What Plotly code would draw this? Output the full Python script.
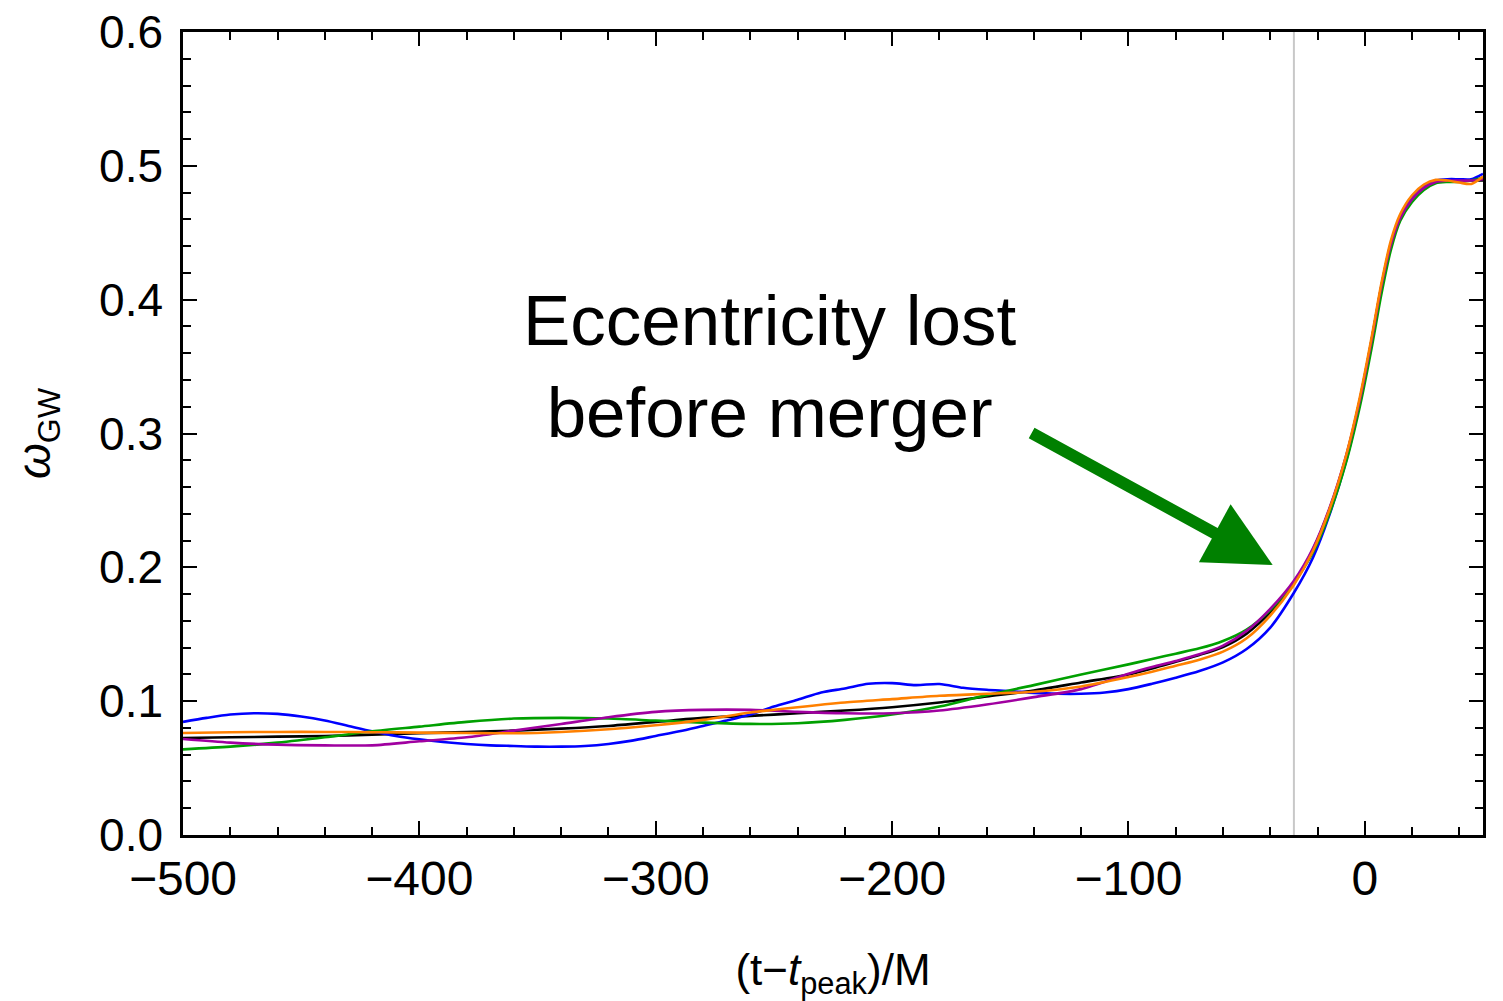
import plotly.graph_objects as go

# shared time grid (t - t_peak)/M for the smooth curves
t = [-500, -480, -460, -440, -420, -400, -380, -360, -340, -320, -300, -280, -260, -240,
     -220, -200, -180, -160, -140, -120, -100, -90, -80, -70, -60, -50, -40, -30,
     -22, -15, -8, -2, 3, 7, 11, 15, 20, 25, 30, 35, 40, 45, 50]

omega_black = [0.0725, 0.073, 0.0735, 0.074, 0.075, 0.076, 0.077, 0.078, 0.0795, 0.0815,
               0.0845, 0.0875, 0.089, 0.091, 0.093, 0.0955, 0.099, 0.1035, 0.108, 0.114,
               0.120, 0.1245, 0.1295, 0.1345, 0.1405, 0.1505, 0.1665, 0.188,
               0.213, 0.243, 0.282, 0.326, 0.371, 0.410, 0.442, 0.462, 0.475, 0.4835,
               0.488, 0.489, 0.489, 0.489, 0.489]

omega_green = [0.064, 0.066, 0.069, 0.073, 0.0775, 0.081, 0.0845, 0.087, 0.0875, 0.087,
               0.0855, 0.084, 0.083, 0.0835, 0.086, 0.090, 0.096, 0.1045, 0.112, 0.120,
               0.1275, 0.1315, 0.1355, 0.1395, 0.145, 0.1535, 0.168, 0.189,
               0.211, 0.240, 0.278, 0.321, 0.365, 0.404, 0.437, 0.459, 0.473, 0.482,
               0.487, 0.488, 0.488, 0.489, 0.491]

omega_purple = [0.0717, 0.069, 0.0675, 0.067, 0.067, 0.070, 0.073, 0.078, 0.083, 0.088,
                0.092, 0.0935, 0.0935, 0.092, 0.091, 0.091, 0.093, 0.0975, 0.103, 0.109,
                0.1205, 0.1255, 0.130, 0.135, 0.1415, 0.1525, 0.169, 0.190,
                0.214, 0.244, 0.283, 0.326, 0.371, 0.410, 0.441, 0.461, 0.475, 0.4835,
                0.488, 0.489, 0.489, 0.489, 0.490]

omega_orange = [0.0762, 0.0768, 0.077, 0.077, 0.0768, 0.0765, 0.0762, 0.076, 0.077, 0.079,
                0.082, 0.086, 0.0915, 0.0955, 0.099, 0.1015, 0.104, 0.1055, 0.107, 0.111,
                0.118, 0.122, 0.1265, 0.131, 0.137, 0.147, 0.164, 0.187,
                0.212, 0.243, 0.283, 0.328, 0.373, 0.412, 0.444, 0.464, 0.478, 0.486,
                0.4895, 0.489, 0.4875, 0.4865, 0.492]

# the blue (noisier) run, sampled more finely
t_blue = [-500, -490, -480, -470, -460, -450, -440, -430, -420, -410, -400, -390, -380,
          -370, -360, -350, -340, -330, -320, -310, -300, -290, -280, -270, -260, -250,
          -240, -230, -220, -210, -200, -190, -180, -170, -160, -150, -140, -130, -120,
          -110, -100, -90, -80, -70, -60, -50, -40, -30,
          -22, -15, -8, -2, 3, 7, 11, 15, 20, 25, 30, 35, 40, 45, 50]

omega_blue = [0.0845, 0.0875, 0.0900, 0.0910, 0.0905, 0.0885, 0.0855, 0.0815, 0.0775, 0.0740,
              0.0715, 0.0695, 0.0680, 0.0670, 0.0665, 0.0660, 0.0660, 0.0665, 0.0680, 0.0705,
              0.0740, 0.0775, 0.0815, 0.0855, 0.0900, 0.0960, 0.1010, 0.1065, 0.1095, 0.1130,
              0.1135, 0.1120, 0.1128, 0.1100, 0.1085, 0.1075, 0.1062, 0.1055, 0.1055, 0.1065,
              0.1090, 0.1130, 0.1175, 0.1225, 0.1290, 0.1390, 0.1550, 0.1810,
              0.207, 0.239, 0.279, 0.324, 0.370, 0.409, 0.441, 0.462, 0.476, 0.485,
              0.489, 0.490, 0.490, 0.490, 0.494]

series = [
    ("black", t, omega_black, "#000000"),
    ("blue", t_blue, omega_blue, "#0000ff"),
    ("green", t, omega_green, "#00a000"),
    ("purple", t, omega_purple, "#a000a0"),
    ("orange", t, omega_orange, "#ff8000"),
]

marker_t = -30
arrow_tip = (-39, 0.2018)
arrow_tail = (-141.6, 0.301)
label_pos = (-252, 0.350)
label_text = "Eccentricity lost<br>before merger"

x_ticks = [-500, -400, -300, -200, -100, 0]
y_ticks = [0.0, 0.1, 0.2, 0.3, 0.4, 0.5, 0.6]

FONT = "Liberation Sans, Arial, Helvetica, sans-serif"

fig = go.Figure()

fig.add_shape(type="line", x0=marker_t, x1=marker_t, y0=0, y1=1, xref="x", yref="paper",
              line=dict(color="#c8c8c8", width=2), layer="below")

for name, xs, ys, col in series:
    fig.add_trace(go.Scatter(x=xs, y=ys, mode="lines", name=name,
                             line=dict(color=col, width=2.6, shape="spline", smoothing=0.8),
                             showlegend=False))

fig.add_annotation(x=arrow_tip[0], y=arrow_tip[1], ax=arrow_tail[0], ay=arrow_tail[1],
                   xref="x", yref="y", axref="x", ayref="y", text="",
                   showarrow=True, arrowhead=2, arrowsize=1.1, arrowwidth=12,
                   arrowcolor="#008000", standoff=0)

fig.add_annotation(x=label_pos[0], y=label_pos[1], xref="x", yref="y", text=label_text,
                   showarrow=False, font=dict(size=71, color="black", family=FONT))

axis_common = dict(showline=True, linecolor="black", linewidth=2.5, mirror="ticks",
                   ticks="inside", ticklen=14, tickwidth=2, tickcolor="black",
                   showgrid=False, zeroline=False, ticklabeloverflow="allow")

fig.update_xaxes(range=[-500, 50], tickvals=x_ticks,
                 tickfont=dict(size=48, family=FONT, color="black"),
                 minor=dict(ticks="inside", ticklen=8, tickwidth=2, dtick=20, tick0=0,
                            tickcolor="black", showgrid=False),
                 title=dict(text="(t−<i>t</i><sub>peak</sub>)/M", standoff=61,
                            font=dict(size=44, family=FONT, color="black")),
                 **axis_common)
fig.update_yaxes(range=[0, 0.6], tickvals=y_ticks, tickformat=".1f",
                 ticklabelstandoff=8,
                 tickfont=dict(size=46, family=FONT, color="black"),
                 minor=dict(ticks="inside", ticklen=8, tickwidth=2, dtick=0.02, tick0=0,
                            tickcolor="black", showgrid=False),
                 title=dict(text="<i>ω</i><sub>GW</sub>", standoff=43,
                            font=dict(size=46, family=FONT, color="black")),
                 **axis_common)

fig.update_layout(width=1495, height=993, plot_bgcolor="white", paper_bgcolor="white",
                  margin=dict(l=175, r=20, t=24, b=166, autoexpand=False))

fig.write_html("out.html")
